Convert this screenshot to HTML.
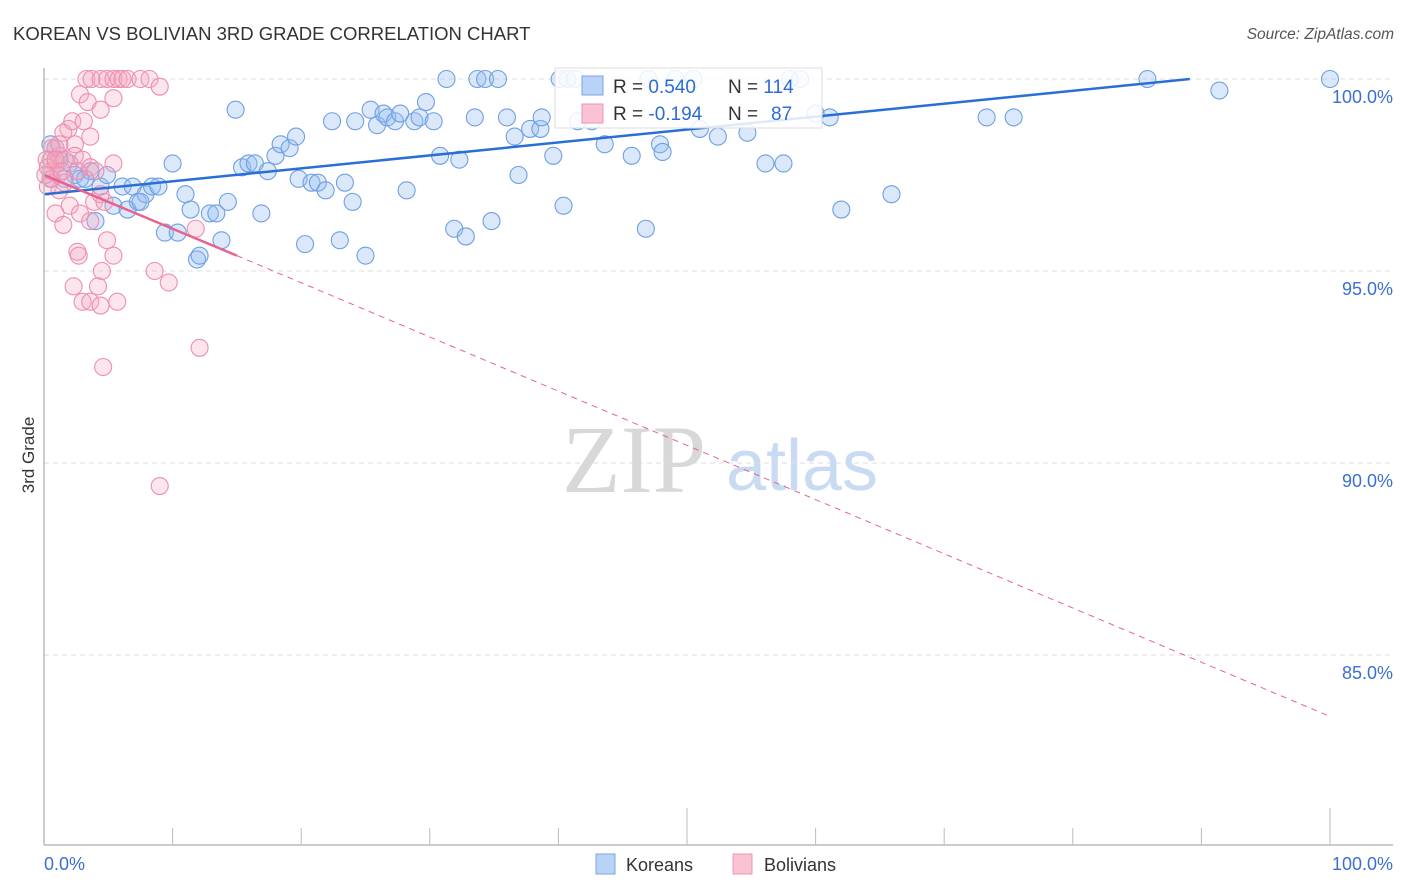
<!DOCTYPE html>
<html><head><meta charset="utf-8"><style>
body{margin:0;background:#fff;width:1406px;height:892px;overflow:hidden;font-family:"Liberation Sans",sans-serif}
svg{position:absolute;left:0;top:0}
</style></head><body>
<svg id="chart" width="1406" height="892">
<text x="13" y="40" font-size="18.5" fill="#333">KOREAN VS BOLIVIAN 3RD GRADE CORRELATION CHART</text>
<text x="1394" y="39" font-size="15.5" fill="#555" text-anchor="end" font-style="italic">Source: ZipAtlas.com</text>
<text x="634" y="492" font-size="96" fill="#d8d8d8" text-anchor="middle" font-family="Liberation Serif,serif">ZIP</text>
<text x="802" y="490" font-size="72" fill="#c9dbf2" text-anchor="middle">atlas</text>
<text transform="translate(34,455) rotate(-90)" font-size="17" fill="#333" text-anchor="middle">3rd Grade</text>
<g id="grid"></g><g id="pts"></g><g id="lines"></g>
<line x1="44" y1="68" x2="44" y2="845" stroke="#bbb" stroke-width="1.5"/>
<line x1="44" y1="845" x2="1393" y2="845" stroke="#bbb" stroke-width="1.5"/>
<text x="44" y="870" font-size="18" fill="#3b6fd1">0.0%</text>
<text x="1393" y="870" font-size="18" fill="#3b6fd1" text-anchor="end">100.0%</text>
<g>
<rect x="555" y="68" width="267" height="60" fill="#fff" fill-opacity="0.85" stroke="#ddd"/>
<rect x="582" y="76" width="21" height="19" fill="#b9d3f6" stroke="#7aa6e6"/>
<rect x="582" y="104" width="21" height="19" fill="#f9c3d3" stroke="#ee94b0"/>
<text x="613" y="93" font-size="19" fill="#333">R = <tspan fill="#2c6bd6">0.540</tspan><tspan x="728">N = </tspan><tspan fill="#2c6bd6">114</tspan></text>
<text x="613" y="120" font-size="19" fill="#333">R = <tspan fill="#2c6bd6">-0.194</tspan><tspan x="728">N = </tspan><tspan fill="#2c6bd6" x="771">87</tspan></text>
</g>
<g>
<rect x="596" y="854" width="19" height="20" fill="#b9d3f6" stroke="#7aa6e6"/>
<text x="626" y="871" font-size="18" fill="#333">Koreans</text>
<rect x="733" y="854" width="19" height="20" fill="#f9c3d3" stroke="#ee94b0"/>
<text x="764" y="871" font-size="18" fill="#333">Bolivians</text>
</g>
</svg>
<script>
const yTicks=[100,95,90,85];
const koreanX=[0.5,0.9,1.2,2.0,2.4,2.8,3.6,4.4,4.9,5.4,6.1,6.5,6.9,7.3,7.9,8.4,8.9,9.4,10.0,10.4,11.0,11.4,11.9,12.1,12.9,13.4,13.8,14.3,14.9,15.4,15.9,16.4,16.9,17.4,18.0,18.4,19.1,19.6,19.8,20.3,20.8,21.3,21.9,22.4,23.0,23.4,24.0,24.2,25.0,25.4,25.9,26.4,26.7,27.3,27.7,28.2,28.8,29.2,29.7,30.3,30.8,31.3,31.9,32.3,32.8,33.5,33.7,34.3,34.8,35.3,36.0,36.6,36.9,37.8,38.6,38.7,39.6,40.1,40.4,40.7,41.5,42.6,43.6,45.7,46.8,47.0,47.9,48.1,49.1,51.0,52.4,54.7,56.1,57.5,58.0,58.8,60.0,61.1,62.0,65.9,73.3,75.4,85.8,91.4,100,50.5,41.3,0.6,1.6,3.2,4.0,7.5];
const koreanY=[98.3,98.2,97.9,97.8,97.5,97.4,97.6,97.2,97.5,96.7,97.2,96.6,97.2,96.8,97.0,97.2,97.2,96.0,97.8,96.0,97.0,96.6,95.3,95.4,96.5,96.5,95.8,96.8,99.2,97.7,97.8,97.8,96.5,97.6,98.0,98.3,98.2,98.5,97.4,95.7,97.3,97.3,97.1,98.9,95.8,97.3,96.8,98.9,95.4,99.2,98.8,99.1,99.0,98.9,99.1,97.1,98.9,99.0,99.4,98.9,98.0,100,96.1,97.9,95.9,99.0,100,100,96.3,100,99.0,98.5,97.5,98.7,98.7,99.0,98.0,100,96.7,100,98.9,98.9,98.3,98.0,96.1,100,98.3,98.1,100,98.7,98.5,98.6,97.8,97.8,100,100,99.1,99.0,96.6,97.0,99.0,99.0,100,99.7,100,100,100,97.4,97.4,97.4,96.3,96.8];
const bolX=[3.3,3.7,4.4,4.9,5.4,5.8,6.1,6.5,7.5,8.2,9.0,2.8,3.4,4.4,5.4,1.9,1.5,2.2,3.1,3.6,2.4,0.9,1.2,0.5,0.9,1.6,2.4,3.0,0.5,1.1,1.6,2.6,3.6,4.0,5.4,0.3,1.2,2.0,2.8,3.9,4.4,4.7,0.9,1.5,3.6,4.9,5.4,2.6,2.7,4.5,2.3,4.2,3.0,3.6,4.4,5.7,8.6,9.7,12.1,4.6,9.0,11.8,0.5,0.6,1.2,0.2,0.3,0.9,1.4,0.1];
const bolY=[100,100,100,100,100,100,100,100,100,100,99.8,99.6,99.4,99.2,99.5,98.7,98.6,98.9,98.9,98.5,98.3,98.2,98.0,97.9,97.8,97.9,98.0,97.9,97.6,97.5,97.3,97.6,97.7,97.6,97.8,97.2,97.1,96.7,96.5,96.8,97.0,96.8,96.5,96.2,96.3,95.8,95.4,95.5,95.4,95.0,94.6,94.6,94.2,94.2,94.1,94.2,95.0,94.7,93.0,92.5,89.4,96.1,97.4,98.2,98.3,97.9,97.7,97.9,97.6,97.5];
const koreanTrend=[0,97.0,89.1,100];
const bolTrend=[0,97.5,15,95.4,100,83.4];
const NS='http://www.w3.org/2000/svg';
const sx=v=>44+v*12.86, sy=v=>79+(100-v)*38.4;
function mk(t,a,p){const e=document.createElementNS(NS,t);for(const k in a)e.setAttribute(k,a[k]);p.appendChild(e);return e;}
const grid=document.getElementById('grid');
yTicks.forEach(t=>{
 const l=mk('line',{x1:44,x2:1393,y1:sy(t),y2:sy(t),stroke:'#ddd','stroke-dasharray':'5,4'},grid);
 
 
 const tx=mk('text',{x:1393,y:sy(t)+24,'font-size':18,fill:'#3b6fd1','text-anchor':'end'},grid);
 tx.textContent=t.toFixed(1)+'%';
 
 
});
for(let i=1;i<=10;i++){
 const x=sx(i*10);
 const l=mk('line',{x1:x,x2:x,y1:(i==5||i==10)?808:828,y2:845,stroke:'#bbb'},grid);
 
 
}
const pts=document.getElementById('pts');
koreanX.forEach((x,i)=>{
 const c=mk('circle',{cx:sx(x),cy:sy(koreanY[i]),r:8.5,fill:'rgba(150,190,240,0.35)',stroke:'#6f9fe3','stroke-width':1.1},pts);
 
 
});
bolX.forEach((x,i)=>{
 const c=mk('circle',{cx:sx(x),cy:sy(bolY[i]),r:8.5,fill:'rgba(245,170,195,0.3)',stroke:'#ec8fae','stroke-width':1.1},pts);
 
 
});
const lines=document.getElementById('lines');
const kl=mk('line',{x1:sx(koreanTrend[0]),y1:sy(koreanTrend[1]),x2:sx(koreanTrend[2]),y2:sy(koreanTrend[3]),stroke:'#2a6fd6','stroke-width':2.5},lines);


const bl=mk('line',{x1:sx(bolTrend[0]),y1:sy(bolTrend[1]),x2:sx(bolTrend[2]),y2:sy(bolTrend[3]),stroke:'#e8628d','stroke-width':2.5},lines);


const bd=mk('line',{x1:sx(bolTrend[2]),y1:sy(bolTrend[3]),x2:sx(bolTrend[4]),y2:sy(bolTrend[5]),stroke:'#e8628d','stroke-width':1,'stroke-dasharray':'6,5'},lines);


</script>
</body></html>
